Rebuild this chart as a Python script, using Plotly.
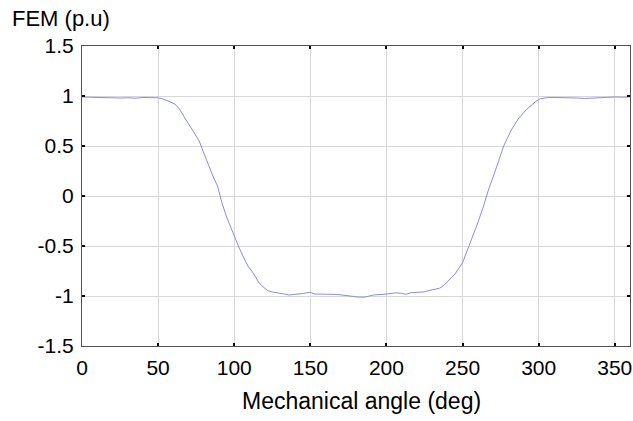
import plotly.graph_objects as go

# Mechanical angle (deg)
angle = [0, 5, 10, 15, 20, 25, 30, 35, 40, 45, 50, 54, 58, 61, 64, 67, 70, 73, 77, 80,
         83, 86, 89, 92, 95, 98, 100, 103, 106, 109, 112, 116, 119, 122, 125, 130, 133, 136,
         140, 145, 150, 153, 160, 168, 176, 182, 186, 192, 199, 206, 210, 213, 216, 224,
         228, 231, 235, 238, 241, 245, 250, 255, 260, 264, 267, 271, 274, 277, 282, 287,
         292, 298, 301, 305, 310, 315, 320, 325, 330, 335, 340, 345, 350, 355, 360]
# FEM (p.u)
fem = [0.99, 0.988, 0.985, 0.98, 0.975, 0.98, 0.982, 0.978, 0.985, 0.985, 0.982, 0.967, 0.94,
       0.92, 0.87, 0.79, 0.72, 0.65, 0.55, 0.43, 0.31, 0.20, 0.10, -0.07, -0.21, -0.33,
       -0.40, -0.51, -0.61, -0.70, -0.76, -0.86, -0.91, -0.945, -0.96, -0.97, -0.98, -0.99,
       -0.98, -0.975, -0.963, -0.98, -0.982, -0.985, -1.0, -1.012, -1.01, -0.988, -0.983,
       -0.968, -0.973, -0.983, -0.967, -0.96, -0.945, -0.933, -0.922, -0.89, -0.84, -0.78,
       -0.667, -0.47, -0.27, -0.09, 0.06, 0.23, 0.36, 0.50, 0.66, 0.78, 0.865, 0.945, 0.973,
       0.983, 0.985, 0.985, 0.982, 0.98, 0.975, 0.98, 0.978, 0.985, 0.99, 0.988, 0.99]

x_ticks = [0, 50, 100, 150, 200, 250, 300, 350]
y_ticks = [-1.5, -1, -0.5, 0, 0.5, 1, 1.5]
y_tick_text = ["-1.5", "-1", "-0.5", "0", "0.5", "1", "1.5"]

FONT = "Liberation Sans, Arial, sans-serif"

fig = go.Figure()
fig.add_trace(go.Scatter(x=angle, y=fem, mode="lines",
                         line=dict(color="rgb(140,140,225)", width=1),
                         showlegend=False, hoverinfo="x+y"))

axis_common = dict(showgrid=True, gridcolor="rgb(215,215,215)", gridwidth=1,
                   showline=True, linecolor="rgb(80,80,80)", linewidth=1,
                   mirror="allticks", ticks="inside", ticklen=3, tickcolor="black",
                   tickwidth=1.5, zeroline=False, automargin=False,
                   tickfont=dict(family=FONT, size=21, color="black"))

fig.update_xaxes(range=[0, 360], tickvals=x_ticks, ticklabelstandoff=3, **axis_common)
fig.update_yaxes(range=[-1.5, 1.5], tickvals=y_ticks, ticktext=y_tick_text,
                 ticklabelstandoff=3, **axis_common)

fig.add_annotation(text="FEM (p.u)", xref="paper", yref="paper",
                   x=(10 - 82) / 548, y=1 + (46 - 18) / 300,
                   xanchor="left", yanchor="middle", showarrow=False,
                   font=dict(family=FONT, size=22, color="black"))
fig.add_annotation(text="Mechanical angle (deg)", xref="paper", yref="paper",
                   x=(361 - 82) / 548, y=-(401 - 346) / 300,
                   xanchor="center", yanchor="middle", showarrow=False,
                   font=dict(family=FONT, size=23, color="black"))

fig.update_layout(width=633, height=421,
                  margin=dict(l=82, r=3, t=46, b=75),
                  paper_bgcolor="white", plot_bgcolor="white")

fig.write_html("out.html", config={"displayModeBar": False},
               post_script="document.body.style.margin='0';document.body.style.padding='0';")
